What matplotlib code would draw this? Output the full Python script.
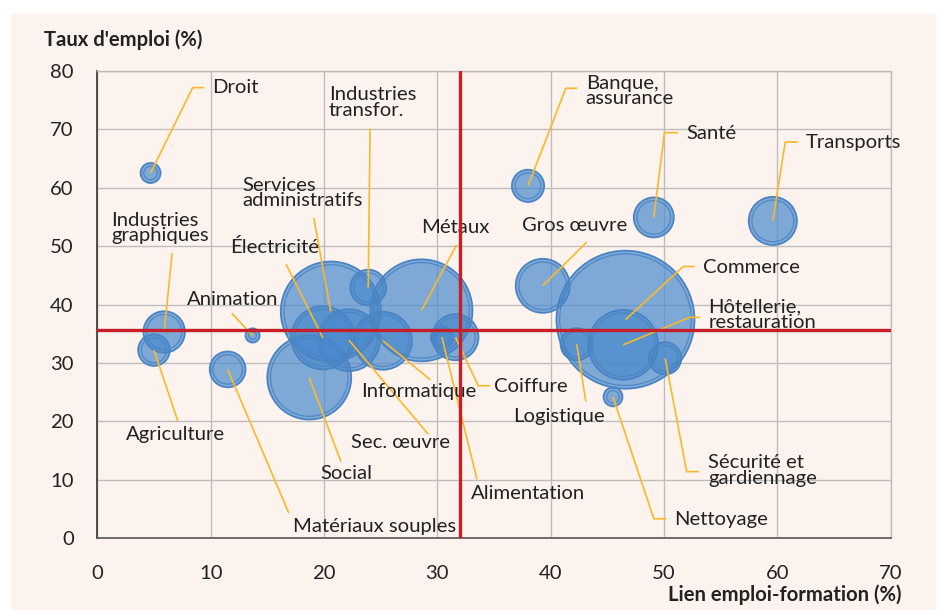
import matplotlib
matplotlib.use("Agg")
import matplotlib.pyplot as plt
from matplotlib.patches import Rectangle
import numpy as np

plt.rcParams['font.family'] = ['Lato', 'DejaVu Sans']

# ---- data ----
secteurs = ["Droit", "Industries graphiques", "Agriculture", "Animation", "Matériaux souples",
            "Social", "Électricité", "Services administratifs", "Sec. œuvre", "Informatique",
            "Industries transfor.", "Métaux", "Coiffure", "Alimentation", "Gros œuvre",
            "Commerce", "Hôtellerie, restauration", "Logistique", "Sécurité et gardiennage",
            "Nettoyage", "Banque, assurance", "Santé", "Transports"]
lien_emploi_formation = [4.7, 5.9, 5.0, 13.7, 11.5, 18.7, 19.9, 20.6, 22.2, 25.2,
                         23.9, 28.6, 31.6, 30.4, 39.3, 46.6, 46.4, 42.3, 50.1,
                         45.5, 38.0, 49.1, 59.6]
taux_emploi = [62.5, 35.3, 32.2, 34.7, 28.9, 27.5, 34.3, 38.8, 33.9, 33.8,
               42.9, 39.0, 34.4, 34.4, 43.2, 37.4, 33.1, 33.2, 30.8,
               24.2, 60.3, 54.9, 54.3]
poids = [10, 43, 25, 5, 32, 176, 100, 250, 96, 84,
         32, 260, 53, 12, 73, 476, 122, 26, 26,
         9, 26, 40, 58]
moyenne_lien = 32.0
moyenne_taux = 35.6
xticks = [0, 10, 20, 30, 40, 50, 60, 70]
yticks = [0, 10, 20, 30, 40, 50, 60, 70, 80]

# ---- label layout: (text x, text y, leader waypoints) ----
layout = {
    "Droit": (10.15, 77.1, [(8.42, 77.1), (9.42, 77.1)]),
    "Industries graphiques": (1.2, 53.1, [(6.6, 48.8)]),
    "Agriculture": (2.55, 17.7, [(7.1, 20.1)]),
    "Animation": (7.9, 40.9, [(11.86, 38.5)]),
    "Matériaux souples": (17.3, 2.0, [(16.9, 4.3)]),
    "Social": (19.65, 11.1, [(21.5, 13.1)]),
    "Électricité": (11.7, 49.8, [(16.65, 46.9)]),
    "Services administratifs": (12.8, 59.1, [(19.1, 54.8)]),
    "Sec. œuvre": (22.4, 16.4, [(29.2, 17.8)]),
    "Informatique": (23.3, 25.1, [(29.4, 27.1)]),
    "Industries transfor.": (20.45, 74.6, [(24.07, 70.1)]),
    "Métaux": (28.6, 53.1, [(31.7, 50.2)]),
    "Coiffure": (35.0, 25.9, [(33.6, 26.1), (34.66, 26.1)]),
    "Alimentation": (33.0, 7.7, [(33.5, 10.1)]),
    "Gros œuvre": (37.45, 53.6, [(43.2, 50.7)]),
    "Commerce": (53.4, 46.4, [(51.7, 46.5), (52.7, 46.5)]),
    "Hôtellerie, restauration": (53.9, 38.3, [(52.25, 37.8), (53.2, 37.8)]),
    "Logistique": (36.7, 20.9, [(43.1, 23.4)]),
    "Sécurité et gardiennage": (53.9, 11.6, [(52.0, 11.4), (53.1, 11.4)]),
    "Nettoyage": (50.9, 3.2, [(49.1, 3.35), (50.2, 3.35)]),
    "Banque, assurance": (43.1, 76.5, [(41.34, 77.0), (42.35, 77.0)]),
    "Santé": (52.0, 69.3, [(50.04, 69.4), (51.23, 69.4)]),
    "Transports": (62.5, 67.7, [(60.7, 67.8), (61.8, 67.8)]),
}
display = {
    "Industries graphiques": "Industries\ngraphiques",
    "Services administratifs": "Services\nadministratifs",
    "Industries transfor.": "Industries\ntransfor.",
    "Hôtellerie, restauration": "Hôtellerie,\nrestauration",
    "Sécurité et gardiennage": "Sécurité et\ngardiennage",
    "Banque, assurance": "Banque,\nassurance",
}

DPI = 100
FS = 14.6
fig = plt.figure(figsize=(9.4, 6.1), dpi=DPI, facecolor="white")
fig.patches.append(Rectangle((11 / 940, 0), (936 - 11) / 940, (610 - 14) / 610,
                             transform=fig.transFigure, facecolor="#FDF3EE",
                             edgecolor="none", zorder=-10))
ax = fig.add_axes([97.3 / 940, 1 - 538.3 / 610, (890.7 - 97.3) / 940, (538.3 - 70.7) / 610])
ax.set_facecolor("none")

ax.set_xlim(0, 70)
ax.set_ylim(0, 80)
ax.set_xticks(xticks)
ax.set_yticks(yticks)
ax.grid(True, color="#BDBDBD", lw=1.0, zorder=0)
ax.set_axisbelow(True)
for s in ["top", "right"]:
    ax.spines[s].set_color("#BDBDBD")
    ax.spines[s].set_linewidth(1.0)
ax.spines["left"].set_color("#333333")
ax.spines["bottom"].set_color("#555555")
ax.spines["left"].set_linewidth(1.2)
ax.spines["bottom"].set_linewidth(1.2)
ax.tick_params(length=0, labelsize=FS, colors="#222222")
ax.tick_params(axis="y", pad=17)
ax.tick_params(axis="x", pad=19)

r_px = np.sqrt(np.array(poids) * 10.0)
s_outer = (2 * r_px * 72 / DPI) ** 2
s_inner = (2 * (r_px - 3.2) * 72 / DPI) ** 2
ax.scatter(lien_emploi_formation, taux_emploi, s=s_outer, color="#498ACE", alpha=0.7,
           edgecolors="none", zorder=2)
ax.scatter(lien_emploi_formation, taux_emploi, s=s_outer, facecolors="none",
           edgecolors="#4A84C2", linewidths=1.3, zorder=3)
ax.scatter(lien_emploi_formation, taux_emploi, s=s_inner, facecolors="none",
           edgecolors="#4A84C2", linewidths=0.9, alpha=0.9, zorder=3)

for name, x, y in zip(secteurs, lien_emploi_formation, taux_emploi):
    tx, ty, pts = layout[name]
    xs = [x] + [p[0] for p in pts]
    ys = [y] + [p[1] for p in pts]
    ax.plot(xs, ys, color="#FBB829", lw=1.2, zorder=4, solid_capstyle="butt")
    ax.text(tx, ty, display.get(name, name), fontsize=FS, color="#222222",
            ha="left", va="center", linespacing=0.9, zorder=5)

ax.axvline(moyenne_lien, color="#C71F2A", lw=2.4, zorder=6)
ax.axhline(moyenne_taux, color="#C71F2A", lw=2.4, zorder=6)

fig.text(44 / 940, 1 - 40 / 610, "Taux d'emploi (%)", fontsize=FS, fontweight="bold",
         color="#222222", ha="left", va="center")
fig.text(902 / 940, 1 - 595 / 610, "Lien emploi-formation (%)", fontsize=FS,
         fontweight="bold", color="#222222", ha="right", va="center")

fig.savefig("out.png", dpi=DPI)
